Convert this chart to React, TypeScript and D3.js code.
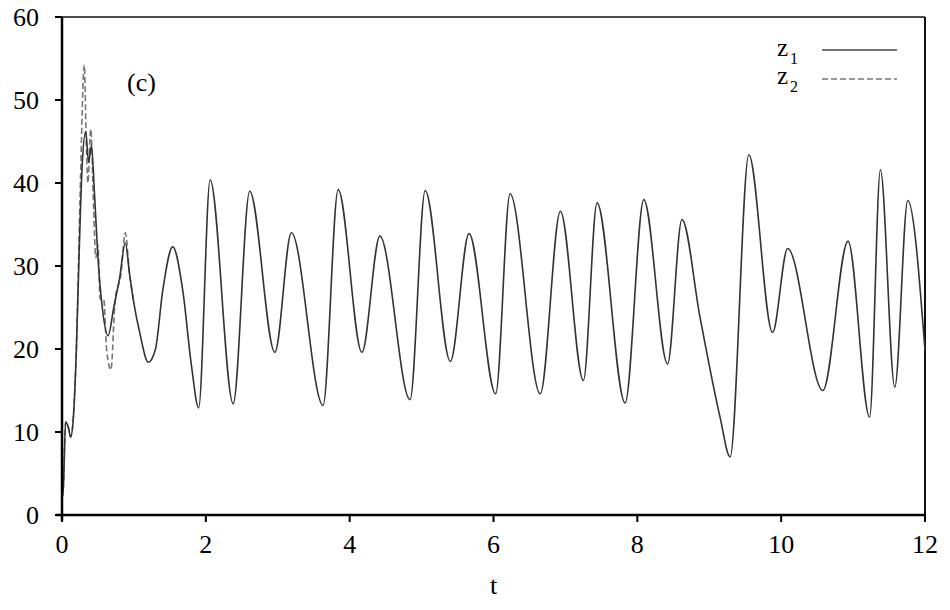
import React from 'react';
import * as d3 from 'd3';

const tZ1 = [
  0, 0.02, 0.05, 0.09, 0.12, 0.16, 0.2, 0.24, 0.28, 0.33, 0.37, 0.41, 0.45, 0.5, 0.56, 0.64, 0.72,
  0.8, 0.88, 0.94, 1.0, 1.08, 1.2, 1.3, 1.4, 1.54, 1.68, 1.8, 1.9, 2.06, 2.38, 2.61, 2.96, 3.19,
  3.63, 3.84, 4.17, 4.42, 4.84, 5.05, 5.4, 5.66, 6.03, 6.23, 6.65, 6.93, 7.25, 7.44, 7.83, 8.09,
  8.42, 8.62, 8.87, 9.15, 9.29, 9.55, 9.88, 10.09, 10.58, 10.93, 11.23, 11.38, 11.58, 11.76, 12.0,
];
const z1 = [
  2.0, 3.5, 11.2, 10.5, 9.4, 12, 20, 32, 42, 46.2, 42.5, 44.5, 39, 31, 25, 21.6, 25,
  28.5, 32.8, 29, 25.5, 22, 18.4, 20, 27, 32.3, 27, 18, 12.9, 40.4, 13.4, 39, 19.6, 34,
  13.2, 39.2, 19.6, 33.6, 13.9, 39.1, 18.5, 33.9, 14.6, 38.7, 14.6, 36.6, 16.2, 37.6, 13.5, 38,
  18.2, 35.6, 23.9, 11.8, 7.0, 43.4, 22, 32.1, 15, 33.0, 11.8, 41.6, 15.4, 37.9, 19.8,
];

// z2 (dashed) during the transient, it coincides with z1 afterwards
const tZ2 = [
  0, 0.02, 0.05, 0.09, 0.12, 0.16, 0.2, 0.25, 0.31, 0.34, 0.36, 0.4, 0.44, 0.47, 0.5, 0.53, 0.58,
  0.62, 0.68, 0.74, 0.82, 0.88, 0.94, 1.0,
];
const z2 = [
  2.0, 3.5, 11.2, 10.5, 9.4, 12, 20, 38, 54.2, 44, 40, 46.5, 37, 31, 32.5, 26, 26,
  20, 17.5, 26, 29, 34, 29, 25.5,
];

const xTicks = [0, 2, 4, 6, 8, 10, 12];
const yTicks = [0, 10, 20, 30, 40, 50, 60];

const W = 950;
const H = 610;
const m = { left: 62, right: 25, top: 17, bottom: 95 };

export default function App() {
  const x = d3.scaleLinear().domain([0, 12]).range([m.left, W - m.right]);
  const y = d3.scaleLinear().domain([0, 60]).range([H - m.bottom, m.top]);

  const line = d3
    .line<[number, number]>()
    .x((d) => x(d[0]))
    .y((d) => y(d[1]))
    .curve(d3.curveMonotoneX);

  const s1 = tZ1.map((t, i) => [t, z1[i]] as [number, number]);
  const s2 = tZ2.map((t, i) => [t, z2[i]] as [number, number]);

  return (
    <svg
      width={W}
      height={H}
      style={{
        position: 'absolute',
        left: 0,
        top: 0,
        background: '#fff',
        fontFamily: "'Liberation Serif', 'Times New Roman', Times, serif",
      }}
    >
      {/* frame */}
      <line x1={m.left} x2={W - m.right} y1={m.top} y2={m.top} stroke="#111" strokeWidth={1.5} />
      <line x1={W - m.right} x2={W - m.right} y1={m.top} y2={y(0)} stroke="#111" strokeWidth={2} />

      {/* data */}
      <path d={line(s2) ?? ''} fill="none" stroke="#777" strokeWidth={1.6} strokeDasharray="6,3" />
      <path d={line(s1) ?? ''} fill="none" stroke="#333" strokeWidth={1.6} />

      {/* axes */}
      <line x1={m.left - 6} x2={W - m.right} y1={y(0)} y2={y(0)} stroke="#000" strokeWidth={2.5} />
      <line x1={m.left} x2={m.left} y1={m.top} y2={y(0) + 6} stroke="#000" strokeWidth={2.5} />
      {yTicks.map((v) => (
        <g key={'y' + v}>
          <line x1={m.left - 7} x2={m.left} y1={y(v)} y2={y(v)} stroke="#000" strokeWidth={2} />
          <text x={m.left - 23} y={y(v)} dy="0.35em" textAnchor="end" fontSize={26}>
            {v}
          </text>
        </g>
      ))}
      {xTicks.map((v) => (
        <g key={'x' + v}>
          <line x1={x(v)} x2={x(v)} y1={y(0)} y2={y(0) + 7} stroke="#000" strokeWidth={2} />
          <text x={x(v)} y={y(0) + 38} textAnchor="middle" fontSize={26}>
            {v}
          </text>
        </g>
      ))}
      <text x={(m.left + W - m.right) / 2} y={594} textAnchor="middle" fontSize={26}>
        t
      </text>

      {/* panel label */}
      <text x={127} y={91} fontSize={26}>
        (c)
      </text>

      {/* legend */}
      <text x={777} y={56} fontSize={25}>
        z
      </text>
      <text x={790} y={64} fontSize={16}>
        1
      </text>
      <line x1={822} x2={897} y1={50} y2={50} stroke="#444" strokeWidth={1.5} />
      <text x={777} y={84} fontSize={25}>
        z
      </text>
      <text x={790} y={92} fontSize={16}>
        2
      </text>
      <line x1={822} x2={897} y1={79} y2={79} stroke="#777" strokeWidth={1.5} strokeDasharray="6,3" />
    </svg>
  );
}
